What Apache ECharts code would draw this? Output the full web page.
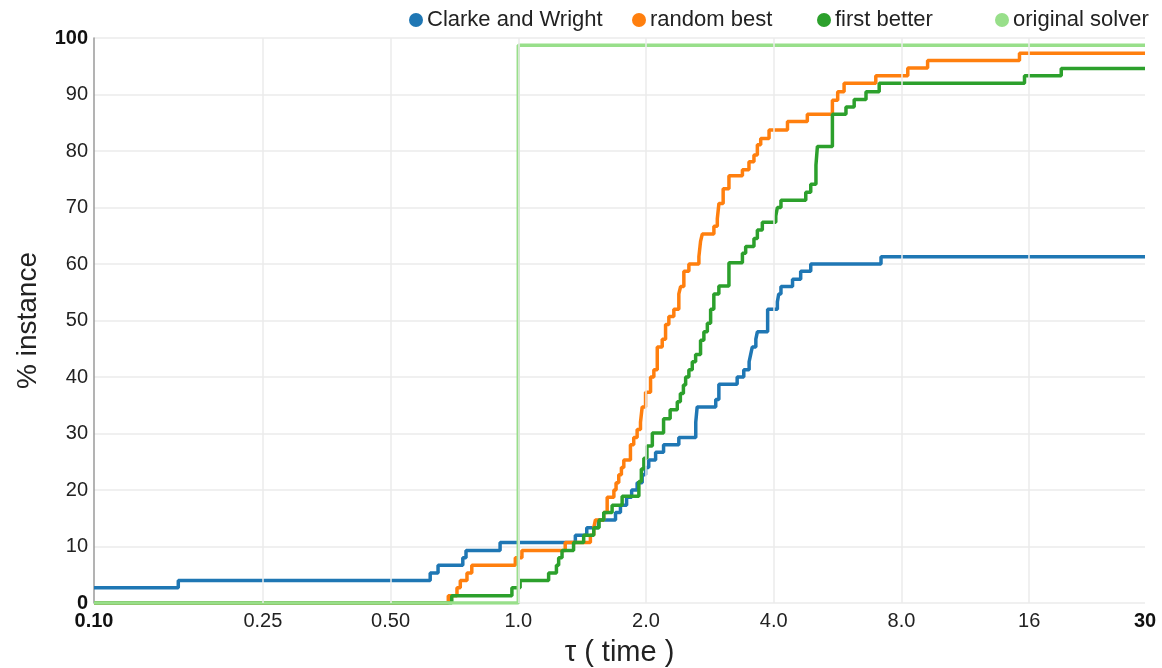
<!DOCTYPE html>
<html>
<head>
<meta charset="utf-8">
<script src="https://cdn.jsdelivr.net/npm/echarts@6/dist/echarts.min.js"></script>
<style>
  html, body { margin: 0; padding: 0; background: #fff; }
  #chart { width: 1162px; height: 668px; }
</style>
</head>
<body>
<div id="chart"></div>
<script>
// Performance profile: share of instances (%) solved within a factor τ of the best time.
const seriesNames = ['Clarke and Wright', 'random best', 'first better', 'original solver'];
const seriesColors = ['#1f77b4', '#ff7f0e', '#2ca02c', '#98df8a'];

// [τ, % instance] — the value holds from τ onward
const clarkeWright = [
  [0.1, 2.7], [0.158, 4.0], [0.62, 5.3], [0.647, 6.7], [0.74, 8.0], [0.753, 9.3], [0.906, 10.7],
  [1.363, 12.0], [1.45, 13.3], [1.545, 14.7], [1.695, 16.0], [1.741, 17.3], [1.80, 18.7], [1.85, 20.0],
  [1.906, 21.3], [1.959, 22.7], [1.995, 24.0], [2.03, 25.3], [2.107, 26.7], [2.20, 28.0], [2.39, 29.3],
  [2.62, 32.0], [2.64, 34.7], [2.92, 36.0], [2.97, 38.7], [3.28, 40.0], [3.40, 41.3], [3.50, 42.7],
  [3.53, 44.0], [3.56, 45.3], [3.63, 46.7], [3.66, 48.0], [3.87, 52.0], [4.08, 53.3], [4.11, 54.7],
  [4.16, 56.0], [4.43, 57.3], [4.63, 58.7], [4.89, 60.0], [7.16, 61.3], [30, 61.3]
];
const randomBest = [
  [0.1, 0], [0.684, 1.3], [0.717, 2.7], [0.730, 4.0], [0.757, 5.3], [0.777, 6.7], [0.984, 8.0],
  [1.02, 9.3], [1.29, 10.7], [1.479, 12.0], [1.506, 13.3], [1.52, 14.7], [1.59, 16.0], [1.62, 18.7],
  [1.68, 20.0], [1.70, 21.3], [1.725, 22.7], [1.75, 24.0], [1.773, 25.3], [1.838, 28.0], [1.871, 29.3],
  [1.906, 30.7], [1.941, 32.0], [1.959, 34.7], [1.995, 37.3], [2.05, 40.0], [2.087, 41.3], [2.126, 45.3],
  [2.184, 46.7], [2.224, 49.3], [2.264, 50.7], [2.326, 52.0], [2.39, 54.7], [2.413, 56.0], [2.456, 58.7],
  [2.524, 60.0], [2.665, 61.3], [2.689, 64.0], [2.714, 65.3], [2.891, 66.7], [2.945, 68.0], [2.971, 70.7],
  [3.04, 73.3], [3.137, 75.6], [3.375, 76.7], [3.497, 78.1], [3.593, 79.3], [3.66, 81.1], [3.727, 82.2],
  [3.90, 83.7], [4.31, 85.2], [4.80, 86.5], [5.50, 89.0], [5.66, 90.5], [5.86, 92.0], [6.96, 93.3],
  [8.28, 94.7], [9.22, 96.0], [15.18, 97.3], [30, 97.3]
];
const firstBetter = [
  [0.1, 0], [0.697, 1.3], [0.966, 2.7], [1.01, 4.0], [1.179, 5.3], [1.23, 6.7], [1.245, 8.0],
  [1.268, 9.3], [1.35, 10.7], [1.426, 12.0], [1.506, 13.3], [1.55, 14.7], [1.59, 16.0], [1.664, 17.3],
  [1.757, 18.9], [1.924, 21.5], [1.95, 23.7], [1.977, 25.6], [2.01, 27.8], [2.07, 30.1], [2.20, 32.6],
  [2.28, 34.2], [2.37, 35.6], [2.41, 37.1], [2.45, 38.6], [2.48, 40.0], [2.524, 41.3], [2.571, 42.7],
  [2.618, 44.0], [2.689, 46.5], [2.738, 48.0], [2.79, 49.5], [2.84, 52.0], [2.89, 54.7], [2.97, 56.1],
  [3.137, 60.2], [3.375, 61.9], [3.435, 63.1], [3.593, 64.5], [3.66, 66.0], [3.76, 67.4], [4.045, 68.5],
  [4.08, 70.0], [4.16, 71.3], [4.76, 72.7], [4.89, 74.1], [5.03, 77.5], [5.07, 80.8], [5.50, 86.5],
  [5.92, 87.8], [6.19, 89.1], [6.60, 90.5], [7.09, 92.0], [15.6, 93.3], [19.04, 94.6], [30, 94.6]
];
const originalSolver = [
  [0.1, 0], [1.0, 98.7], [30, 98.7]
];

// x axis (τ, log base 2) ticks and their printed text
const xTickValues = [0.1, 0.25, 0.5, 1, 2, 4, 8, 16, 30];
const xTickLabels = ['0.10', '0.25', '0.50', '1.0', '2.0', '4.0', '8.0', '16', '30'];
const xGridValues = [0.25, 0.5, 1, 2, 4, 8, 16];

// left edge of each legend entry
const legendLefts = [409, 632, 817, 995];

const FONT = '"Liberation Sans", Arial, Helvetica, sans-serif';
const seriesData = [clarkeWright, randomBest, firstBetter, originalSolver];

function xLabel(v) {
  for (let i = 0; i < xTickValues.length; i++) {
    if (Math.abs(Math.log2(v) - Math.log2(xTickValues[i])) < 1e-6) {
      const txt = xTickLabels[i];
      return (i === 0 || i === xTickValues.length - 1) ? '{b|' + txt + '}' : txt;
    }
  }
  return '';
}

const chart = echarts.init(document.getElementById('chart'), null, { renderer: 'canvas' });

const series = seriesNames.map((name, i) => ({
  name: name,
  type: 'line',
  step: 'end',
  data: seriesData[i],
  showSymbol: false,
  symbol: 'circle',
  color: seriesColors[i],
  lineStyle: { width: 3.5, color: seriesColors[i] },
  emphasis: { disabled: true },
  z: 3
}));

// vertical grid lines at the powers of two
series.unshift({
  name: 'grid',
  type: 'line',
  data: [],
  z: 1,
  silent: true,
  markLine: {
    silent: true,
    symbol: ['none', 'none'],
    label: { show: false },
    lineStyle: { color: '#ebebeb', width: 1.5, type: 'solid' },
    emphasis: { disabled: true },
    animation: false,
    data: xGridValues.map(v => ({ xAxis: v }))
  }
});

const legends = seriesNames.map((name, i) => ({
  data: [name],
  top: 9,
  left: legendLefts[i],
  icon: 'circle',
  itemWidth: 14,
  itemHeight: 14,
  padding: 0,
  textStyle: { fontFamily: FONT, fontSize: 22, color: '#222', padding: [0, 0, 0, -1] }
}));

chart.setOption({
  animation: false,
  backgroundColor: '#ffffff',
  textStyle: { fontFamily: FONT },
  legend: legends,
  grid: { left: 94, right: 17, top: 38, bottom: 65, containLabel: false, outerBoundsMode: 'none' },
  xAxis: {
    type: 'log',
    logBase: 2,
    min: 0.1,
    max: 30,
    name: 'τ ( time )',
    nameLocation: 'middle',
    nameGap: 35,
    nameTextStyle: { fontFamily: FONT, fontSize: 29, color: '#222' },
    axisLine: { show: false },
    axisTick: { show: false, customValues: xTickValues },
    splitLine: { show: false },
    axisLabel: {
      customValues: xTickValues,
      formatter: xLabel,
      fontFamily: FONT,
      fontSize: 20,
      color: '#222',
      margin: 8,
      rich: { b: { fontFamily: FONT, fontSize: 20, fontWeight: 'bold', color: '#111' } }
    }
  },
  yAxis: {
    type: 'value',
    min: 0,
    max: 100,
    interval: 10,
    name: '% instance',
    nameLocation: 'middle',
    nameGap: 52,
    nameTextStyle: { fontFamily: FONT, fontSize: 28, color: '#222' },
    axisLine: { show: true, lineStyle: { color: '#9a9a9a', width: 1.5 } },
    axisTick: { show: false },
    splitLine: { show: true, lineStyle: { color: '#ebebeb', width: 1.5 } },
    axisLabel: {
      fontFamily: FONT,
      fontSize: 20,
      color: '#222',
      margin: 6,
      formatter: v => (v === 0 || v === 100) ? '{b|' + v + '}' : String(v),
      rich: { b: { fontFamily: FONT, fontSize: 20, fontWeight: 'bold', color: '#111' } }
    }
  },
  series: series
});
</script>
</body>
</html>
